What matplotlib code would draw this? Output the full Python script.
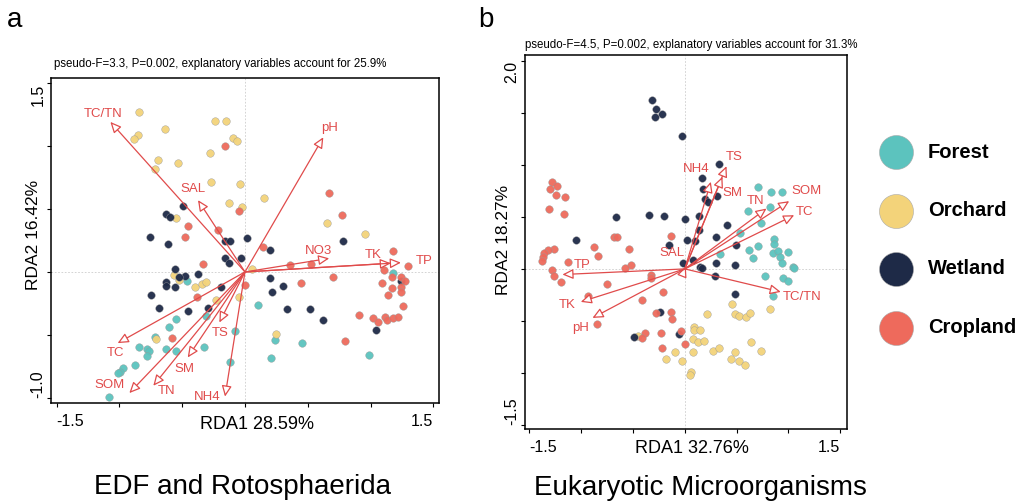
import matplotlib
matplotlib.use("Agg")
import matplotlib.pyplot as plt
import numpy as np

plt.rcParams['font.family'] = ['Liberation Sans', 'DejaVu Sans']

# ---- colours ----
group_names = ['Forest', 'Orchard', 'Wetland', 'Cropland']
group_colors = ['#5CC3BE', '#F3D37A', '#1E2A47', '#EE6A5C']
arrow_color = '#E04B4B'

# ---- panel a: EDF and Rotosphaerida ----
a_forest_x = [-0.462, 1.181, 0.101, -0.311, -0.549, -0.608, -0.719, -0.847, -0.783, -0.762, -0.783, -0.629, -0.549,
              -0.324, -0.080, -0.119, -0.878, -0.974, -0.995, -1.011, -1.083, 0.236, 0.207, 0.454, 0.985]
a_forest_y = [-0.071, -0.005, -0.262, -0.349, -0.376, -0.437, -0.516, -0.595, -0.614, -0.632, -0.667, -0.614, -0.627,
              -0.595, -0.471, -0.714, -0.738, -0.765, -0.799, -0.804, -0.992, -0.540, -0.688, -0.561, -0.661]
a_orchard_x = [-0.847, -0.236, -0.151, -0.637, -0.855, -0.884, -0.098, -0.066, -0.276, -0.693, -0.536, -0.717, -0.268,
               -0.042, 0.149, -0.130, -0.021, 0.650, -0.552, 0.953, 0.056, -0.563, -0.523, -0.401, -0.345, -0.311,
               -0.231, -0.045, 0.244, -0.709]
a_orchard_y = [1.272, 1.204, 1.198, 1.135, 1.087, 1.061, 1.066, 1.040, 0.942, 0.889, 0.865, 0.815, 0.717,
               0.701, 0.590, 0.545, 0.516, 0.389, 0.431, 0.299, 0.026, -0.024, -0.066, -0.116, -0.098, -0.079,
               -0.225, -0.198, -0.495, -0.534]
a_wetland_x = [-0.491, -0.629, -0.594, -0.756, -0.616, -0.159, -0.119, 0.013, 0.202, 0.778, -0.159, -0.127, -0.029,
               -0.555, -0.372, -0.475, -0.523, -0.626, -0.626, -0.555, -0.191, -0.746, -0.687, -0.456, -0.297,
               0.196, 0.303, 0.212, 0.332, 0.515, 0.624, 1.245, 1.046]
a_wetland_y = [0.521, 0.458, 0.439, 0.275, 0.225, 0.243, 0.243, 0.270, 0.177, 0.243, 0.114, 0.071, 0.111,
               0.024, -0.019, -0.032, -0.040, -0.082, -0.108, -0.119, -0.122, -0.185, -0.288, -0.310, -0.283,
               -0.045, -0.111, -0.161, -0.291, -0.291, -0.384, -0.074, -0.458]
a_cropland_x = [-0.162, 0.666, -0.050, 0.770, -0.451, -0.215, -0.480, 0.146, 1.181, -0.332, 0.358, 0.525, 1.298,
                1.104, 1.168, 1.245, 1.274, 0.701, 0.003, 0.446, 1.088, 1.173, 1.245, 1.245, 1.141, 1.261, -0.385,
                0.905, 1.022, 1.056, 1.112, 1.131, 1.178, 1.221, 0.796, -0.581]
a_cropland_y = [1.000, 0.627, 0.484, 0.455, 0.368, 0.331, 0.278, 0.198, 0.167, 0.063, 0.053, 0.063, 0.045,
                0.013, -0.040, -0.037, -0.074, -0.040, -0.101, -0.090, -0.090, -0.130, -0.119, -0.156, -0.183,
                -0.272, -0.196, -0.341, -0.368, -0.397, -0.360, -0.381, -0.368, -0.357, -0.550, -0.526]

a_vars = ['TC/TN', 'SAL', 'pH', 'NO3', 'TK', 'TP', 'TC', 'SOM', 'TN', 'SM', 'TS', 'NH4']
a_arrow_x = [-1.072, -0.374, 0.624, 0.671, 1.162, 1.242, -1.014, -0.921, -0.730, -0.456, -0.204, -0.159]
a_arrow_y = [1.193, 0.571, 1.071, 0.108, 0.069, 0.074, -0.566, -0.963, -0.905, -0.680, -0.402, -0.991]
a_label_x = [-1.133, -0.411, 0.671, 0.587, 1.024, 1.428, -1.035, -1.075, -0.624, -0.483, -0.194, -0.297]
a_label_y = [1.257, 0.656, 1.146, 0.167, 0.132, 0.087, -0.648, -0.899, -0.950, -0.772, -0.489, -0.997]

# ---- panel b: Eukaryotic Microorganisms ----
b_forest_x = [0.704, 0.829, 0.936, 0.614, 0.823, 0.733, 0.531, 0.344, 0.623, 0.707, 0.653, 0.859, 0.865, 0.855,
              0.900, 0.923, 0.942, 1.000, 1.042, 1.052, 0.769, 0.950, 1.000, 0.846]
b_forest_y = [0.789, 0.734, 0.741, 0.558, 0.590, 0.439, 0.346, 0.144, 0.180, 0.221, 0.109, 0.285, 0.238, 0.148,
              0.173, 0.116, 0.058, 0.160, 0.016, 0.007, -0.064, -0.086, -0.115, -0.259]
b_orchard_x = [0.453, 0.212, 0.482, 0.527, 0.589, 0.627, 0.820, 0.093, 0.090, 0.148, 0.080, 0.128, 0.183, -0.094,
               0.080, 0.276, 0.334, 0.482, 0.640, 0.733, -0.184, -0.023, 0.443, 0.518, 0.576, 0.064, 0.048, -0.448]
b_orchard_y = [-0.333, -0.438, -0.438, -0.448, -0.464, -0.423, -0.384, -0.557, -0.589, -0.586, -0.669, -0.705,
               -0.695, -0.798, -0.798, -0.788, -0.760, -0.798, -0.702, -0.788, -0.862, -0.887, -0.868, -0.887,
               -0.919, -0.990, -1.016, -0.644]
b_wetland_x = [-0.312, -0.277, -0.219, -0.290, -0.026, 0.334, 0.164, 0.180, 0.196, 0.222, 0.315, -0.345, -0.200,
               -0.663, 0.000, 0.138, 0.405, 0.138, -1.046, 0.299, -0.151, 0.025, 0.099, 0.498, -0.016, 0.083,
               0.144, 0.170, 0.299, 0.482, 0.292, 0.482, -0.241, -0.486, -0.052]
b_wetland_y = [1.622, 1.532, 1.484, 1.455, 1.273, 1.010, 0.869, 0.763, 0.670, 0.638, 0.702, 0.516, 0.513,
               0.494, 0.475, 0.507, 0.420, 0.372, 0.279, 0.308, 0.234, 0.276, 0.266, 0.228, 0.061, 0.083,
               0.020, 0.013, 0.061, 0.036, -0.067, -0.243, -0.410, -0.650, -0.628]
b_cropland_x = [-1.277, -1.303, -1.229, -1.245, -1.152, -1.310, -1.168, -0.679, -0.650, -0.878, -0.834, -0.541,
                -0.132, -1.262, -1.316, -1.358, -1.364, -1.374, -1.126, -0.515, -0.579, -1.277, -1.262, -1.191,
                -0.747, -0.322, -0.325, -0.206, -0.409, -0.930, -0.850, -0.280, -0.129, -0.119, -0.380, -0.418,
                -0.232, -0.036, 0.006, -0.216]
b_cropland_y = [0.837, 0.769, 0.792, 0.712, 0.693, 0.577, 0.523, 0.305, 0.305, 0.212, 0.125, 0.192,
                0.314, 0.196, 0.177, 0.148, 0.116, 0.080, 0.064, 0.039, 0.004, -0.006, -0.067, -0.122,
                -0.141, -0.054, -0.083, -0.221, -0.301, -0.259, -0.525, -0.420, -0.410, -0.477, -0.615, -0.663,
                -0.615, -0.592, -0.720, -0.756]

b_vars = ['TS', 'NH4', 'SM', 'TN', 'SOM', 'TC', 'TC/TN', 'SAL', 'TP', 'TK', 'pH']
b_arrow_x = [0.402, 0.251, 0.363, 0.788, 1.007, 1.055, 0.926, 0.010, -1.181, -1.004, -0.891]
b_arrow_y = [0.987, 0.837, 0.885, 0.580, 0.651, 0.516, -0.221, 0.025, -0.054, -0.317, -0.471]
b_label_x = [0.476, 0.106, 0.460, 0.685, 1.177, 1.152, 1.136, -0.126, -0.987, -1.132, -1.003]
b_label_y = [1.077, 0.959, 0.731, 0.651, 0.750, 0.542, -0.269, 0.154, 0.036, -0.349, -0.564]


def draw_rda(ax, groups, arrows_x, arrows_y, names, lab_x, lab_y, xlim, ylim, xticks, yticks):
    ax.axhline(0, color='#cccccc', lw=0.6, ls=(0, (2, 2)), zorder=0)
    ax.axvline(0, color='#cccccc', lw=0.6, ls=(0, (2, 2)), zorder=0)
    for (gx, gy), col in zip(groups, group_colors):
        ax.scatter(gx, gy, s=30, c=col, edgecolors='#999999', linewidths=0.3, alpha=0.95, zorder=2)
    for x, y, name, lx, ly in zip(arrows_x, arrows_y, names, lab_x, lab_y):
        ax.annotate('', xy=(x, y), xytext=(0, 0),
                    arrowprops=dict(arrowstyle='-|>,head_length=0.65,head_width=0.3', mutation_scale=10,
                                    color=arrow_color, fc='white', lw=0.9, shrinkA=0, shrinkB=0),
                    zorder=3)
        ax.text(lx, ly, name, color=arrow_color, fontsize=9.5, ha='center', va='center', zorder=4)
    ax.set_xlim(xlim)
    ax.set_ylim(ylim)
    ax.set_xticks(xticks)
    ax.set_yticks(yticks)
    xl = [''] * len(xticks)
    xl[0], xl[-1] = '-1.5', '1.5'
    yl = [''] * len(yticks)
    yl[0], yl[-1] = '%.1f' % yticks[0], '%.1f' % yticks[-1]
    ax.set_xticklabels(xl, fontsize=11.5)
    ax.set_yticklabels(yl, fontsize=11.5, rotation=90)
    xt = ax.get_xticklabels()
    xt[0].set_ha('left')
    xt[-1].set_ha('right')
    yt = ax.get_yticklabels()
    yt[0].set_va('bottom')
    yt[-1].set_va('top')
    ax.tick_params(axis='x', length=3, width=0.8, pad=5)
    ax.tick_params(axis='y', length=3, width=0.8, pad=1)
    for sp in ax.spines.values():
        sp.set_linewidth(1.1)


fig = plt.figure(figsize=(10.22, 5.04), dpi=100)

ax1 = fig.add_axes([0.0499, 0.2004, 0.3796, 0.6448])
draw_rda(ax1,
         [(a_forest_x, a_forest_y), (a_orchard_x, a_orchard_y), (a_wetland_x, a_wetland_y),
          (a_cropland_x, a_cropland_y)],
         a_arrow_x, a_arrow_y, a_vars, a_label_x, a_label_y,
         (-1.545, 1.545), (-1.042, 1.542), np.arange(-1.5, 1.51, 0.5), np.arange(-1.0, 1.51, 0.5))
ax1.text(0.008, 1.043, 'pseudo-F=3.3, P=0.002, explanatory variables account for 25.9%',
         transform=ax1.transAxes, fontsize=8.3, va='center', ha='left')
ax1.text(0.531, -0.065, 'RDA1 28.59%', transform=ax1.transAxes, fontsize=13, ha='center', va='center')
ax1.text(-0.046, 0.517, 'RDA2 16.42%', transform=ax1.transAxes, fontsize=12.5, ha='center', va='center',
         rotation=90)

ax2 = fig.add_axes([0.5137, 0.1488, 0.3151, 0.7421])
draw_rda(ax2,
         [(b_forest_x, b_forest_y), (b_orchard_x, b_orchard_y), (b_wetland_x, b_wetland_y),
          (b_cropland_x, b_cropland_y)],
         b_arrow_x, b_arrow_y, b_vars, b_label_x, b_label_y,
         (-1.542, 1.565), (-1.538, 2.055), np.arange(-1.5, 1.51, 0.5), np.arange(-1.5, 2.01, 0.5))
ax2.text(0.0, 1.027, 'pseudo-F=4.5, P=0.002, explanatory variables account for 31.3%',
         transform=ax2.transAxes, fontsize=8.3, va='center', ha='left')
ax2.text(0.519, -0.053, 'RDA1 32.76%', transform=ax2.transAxes, fontsize=13, ha='center', va='center')
ax2.text(-0.067, 0.505, 'RDA2 18.27%', transform=ax2.transAxes, fontsize=12.5, ha='center', va='center',
         rotation=90)

# panel letters and bottom titles
fig.text(15 / 1022, 1 - 20 / 504, 'a', fontsize=20, ha='center', va='center')
fig.text(486 / 1022, 1 - 20 / 504, 'b', fontsize=20, ha='center', va='center')
fig.text(242 / 1022, 1 - 487 / 504, 'EDF and Rotosphaerida', fontsize=20, ha='center', va='center')
fig.text(700 / 1022, 1 - 488 / 504, 'Eukaryotic Microorganisms', fontsize=20, ha='center', va='center')

# legend
lax = fig.add_axes([0, 0, 1, 1], facecolor='none')
lax.set_xlim(0, 1022)
lax.set_ylim(504, 0)
lax.axis('off')
for i, (name, col) in enumerate(zip(group_names, group_colors)):
    yy = 152 + i * 58.5
    lax.scatter([896], [yy], s=600, c=col, edgecolors='#aaaaaa', linewidths=0.4)
    lax.text(928, yy, name, fontsize=14.5, fontweight='bold', ha='left', va='center')

fig.savefig('out.png', dpi=100)
